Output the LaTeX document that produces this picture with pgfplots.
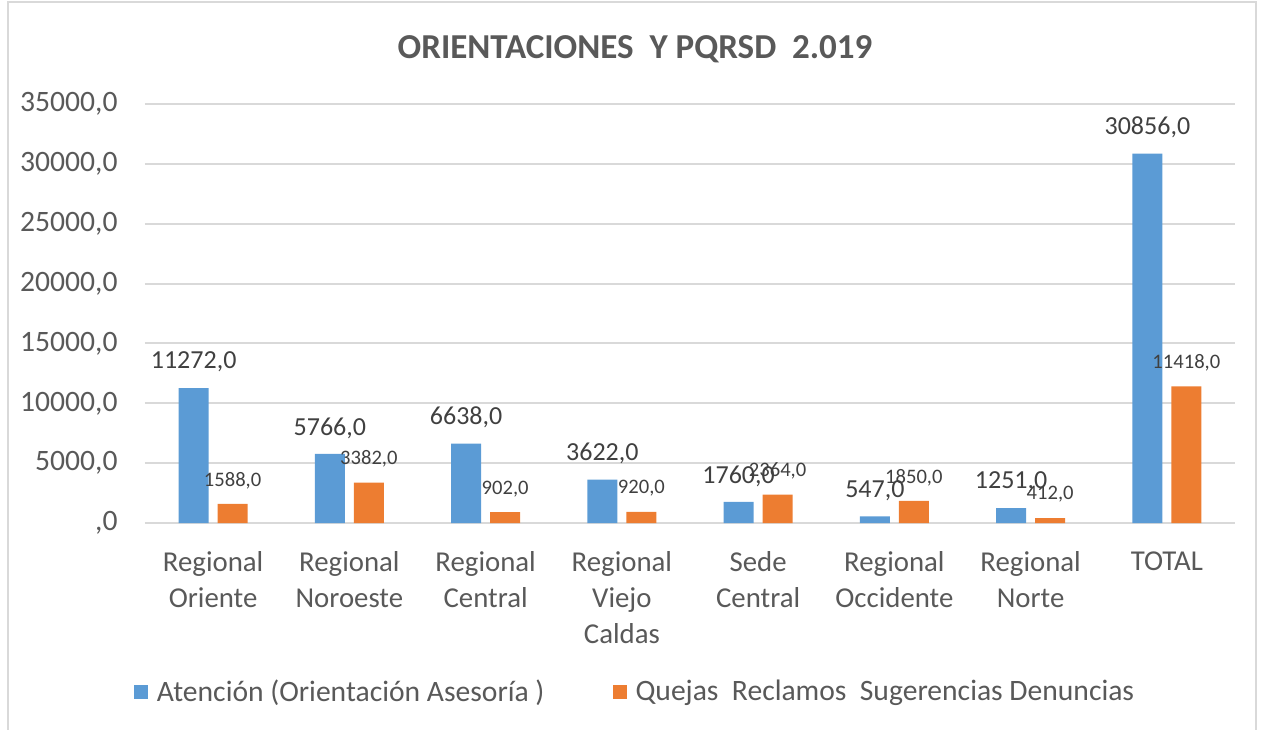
\documentclass[border=0pt]{standalone}
\usepackage{pgfplots}
\usepackage{pgfplotstable}
\pgfplotsset{compat=1.18}
\usepackage{fontspec}
\setmainfont{Carlito}
\definecolor{cblue}{HTML}{5B9BD5}
\definecolor{corange}{HTML}{ED7D31}
\definecolor{ctext}{HTML}{595959}
\definecolor{cgrid}{HTML}{D9D9D9}
\definecolor{clabel}{HTML}{404040}
\pgfplotstableread{
x a q
0 11272 1588
1 5766 3382
2 6638 902
3 3622 920
4 1760 2364
5 547 1850
6 1251 412
7 30856 11418
}\data
\begin{document}
\begin{tikzpicture}
\path[use as bounding box] (-72.5pt,-103pt) rectangle (559.5pt,261.5pt);
\draw[cgrid, line width=1pt] (-68.5pt,-104pt) -- (-68.5pt,260.5pt) -- (555.5pt,260.5pt) -- (555.5pt,-104pt);
\begin{axis}[
  at={(0,0)}, anchor=south west, scale only axis,
  width=545pt, height=209.5pt,
  ymin=0, ymax=35000, xmin=-0.5, xmax=7.5,
  scaled y ticks=false,
  ytick={0,5000,10000,15000,20000,25000,30000,35000},
  yticklabels={{,0},{5000,0},{10000,0},{15000,0},{20000,0},{25000,0},{30000,0},{35000,0}},
  xtick={0,1,2,3,4,5,6,7},
  xticklabels={{Regional\\Oriente},{Regional\\Noroeste},{Regional\\Central},{Regional\\Viejo\\Caldas},{Sede\\Central},{Regional\\Occidente},{Regional\\Norte},{TOTAL}},
  major tick length=0pt,
  axis line style={draw=none},
  ymajorgrids, grid style={cgrid, line width=1pt},
  yticklabel style={font=\fontsize{14.8}{18}\selectfont, text=ctext, anchor=east, inner sep=0pt, xshift=-13.5pt},
  xticklabel style={font=\fontsize{14.4}{18}\selectfont, text=ctext, anchor=north, inner sep=0pt, yshift=-14pt, align=center},
  ybar, bar width=15pt,
  /pgf/number format/.cd, fixed, fixed zerofill, precision=1, use comma, 1000 sep={}, assume math mode=true,
  /pgfplots/.cd,
  nodes near coords,
  legend columns=2,
  legend style={at={(axis description cs:0.4528,-0.4033)}, anchor=center, draw=none,
    font=\fontsize{14.8}{18}\selectfont, text=ctext,
    nodes={inner xsep=4.5pt},
    /tikz/every even column/.append style={column sep=29.5pt}},
]
\addplot[fill=cblue, draw=none, bar shift=-9.75pt,
  every node near coord/.append style={font=\fontsize{13}{15}\selectfont, text=clabel, anchor=center, yshift=13pt},
  legend image code/.code={\fill[cblue] (0pt,-3.5pt) rectangle (7pt,3.5pt);}]
  table[x=x, y=a] {\data};
\addlegendentry{Atención (Orientación Asesoría )}
\addplot[fill=corange, draw=none, bar shift=9.75pt,
  every node near coord/.append style={font=\fontsize{10.3}{12}\selectfont, text=clabel, anchor=center, yshift=11.75pt},
  legend image code/.code={\fill[corange] (0pt,-3.5pt) rectangle (7pt,3.5pt);}]
  table[x=x, y=q] {\data};
\addlegendentry{Quejas\ \ Reclamos\ \ Sugerencias Denuncias}
\end{axis}
\node[font=\bfseries\fontsize{17.5}{20}\selectfont, text=ctext] at (245pt,237pt) {ORIENTACIONES\ \ Y PQRSD\ \ 2.019};
\end{tikzpicture}
\end{document}
